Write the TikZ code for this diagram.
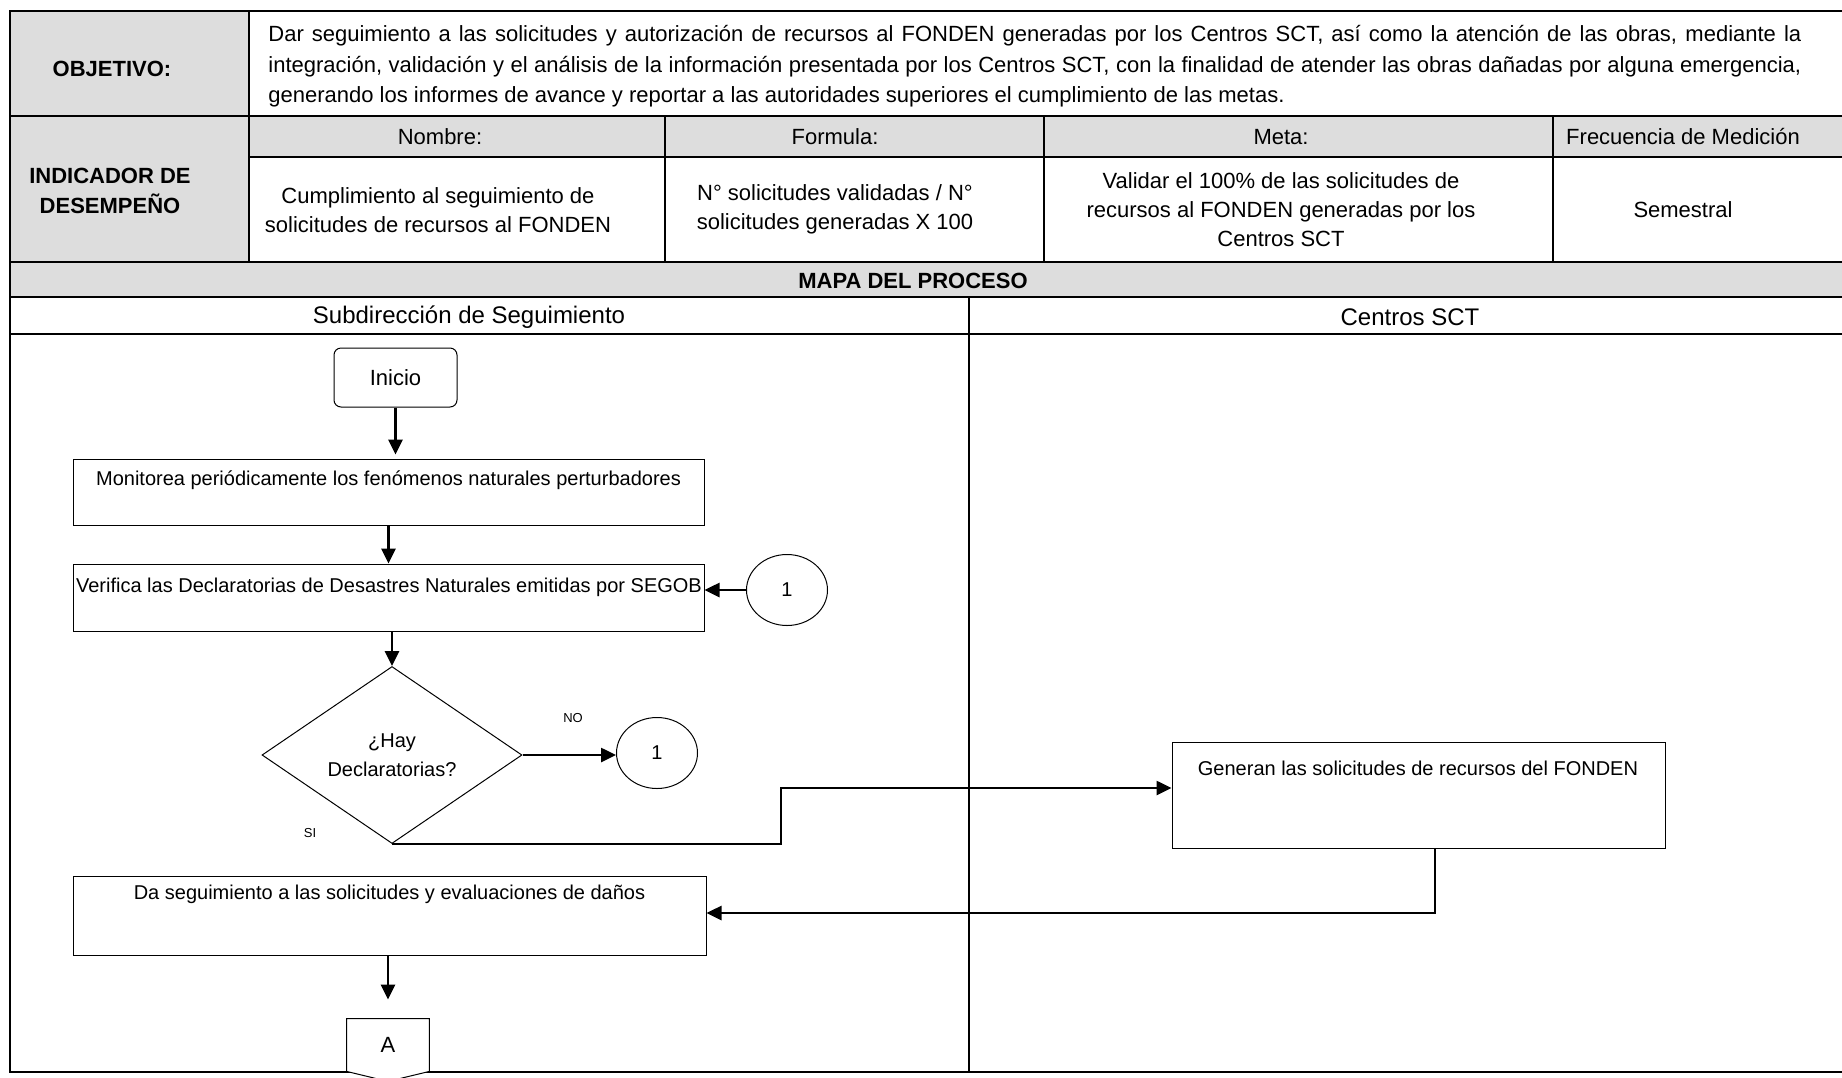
\documentclass[tikz,border=0pt]{standalone}
\usepackage{fontspec}
\setmainfont{Liberation Sans}
\usetikzlibrary{shapes.geometric,calc,fit,arrows.meta}
\definecolor{cellgray}{RGB}{221,221,221}
\begin{document}
\begin{tikzpicture}[x=0.5pt,y=-0.5pt,
  tline/.style={line width=1.4pt},
  box/.style={draw, line width=0.5pt, inner sep=0pt},
  flowtxt/.style={font=\fontsize{10}{12}\selectfont, inner sep=0pt},
  tabtxt/.style={font=\fontsize{11}{14.5}\selectfont, inner sep=0pt, align=center},
  tabbold/.style={font=\fontsize{11}{14.75}\selectfont\bfseries, inner sep=0pt, align=center},
  lanetxt/.style={font=\fontsize{12}{14}\selectfont, inner sep=0pt},
  conn/.style={line width=1.3pt, -{Triangle[length=7.5pt,width=7pt]}},
  small/.style={font=\fontsize{6.5}{8}\selectfont, inner sep=0pt},
]
\useasboundingbox (0,0) rectangle (1842,1077);
% fills
\fill[cellgray] (10,11) rectangle (249,262);
\fill[cellgray] (249,116) rectangle (1842,157);
\fill[cellgray] (10,262) rectangle (1842,297);
% table lines
\draw[tline] (1842,11) -- (10,11) -- (10,1072) -- (1842,1072);
\draw[tline] (10,116) -- (1842,116);
\draw[tline] (249,157) -- (1842,157);
\draw[tline] (10,262) -- (1842,262);
\draw[tline] (10,297) -- (1842,297);
\draw[tline] (10,334) -- (1842,334);
\draw[tline] (249,11) -- (249,262);
\draw[tline] (665,116) -- (665,262);
\draw[tline] (1044,116) -- (1044,262);
\draw[tline] (1553,116) -- (1553,262);
\draw[line width=1pt] (969,297) -- (969,1072);
% table texts
\node[tabbold] (objl) at (112,69) {OBJETIVO:};
\node[tabtxt, font=\fontsize{11}{15.25}\selectfont, text width=766.5pt, align=justify, anchor=west] (objt) at (268,66.5)
 {Dar seguimiento a las solicitudes y autorización de recursos al FONDEN generadas por los Centros SCT, así como la atención de las obras, mediante la\linebreak
 integración, validación y el análisis de la información presentada por los Centros SCT, con la finalidad de atender las obras dañadas por alguna emergencia,\linebreak
 generando los informes de avance y reportar a las autoridades superiores el cumplimiento de las metas.};
\node[tabbold] (indl) at (110,191) {INDICADOR DE\\DESEMPEÑO};
\node[tabtxt] (hnom) at (440,137) {Nombre:};
\node[tabtxt] (hfor) at (835,137) {Formula:};
\node[tabtxt] (hmet) at (1281,137) {Meta:};
\node[tabtxt] (hfre) at (1683,137) {Frecuencia de Medición};
\node[tabtxt] (dnom) at (438,210) {Cumplimiento al seguimiento de\\solicitudes de recursos al FONDEN};
\node[tabtxt] (dfor) at (835,209) {N° solicitudes validadas / N°\\solicitudes generadas X 100};
\node[tabtxt] (dmet) at (1281,210) {Validar el 100\% de las solicitudes de\\recursos al FONDEN generadas por los\\Centros SCT};
\node[tabtxt] (dfre) at (1683,210) {Semestral};
\node[tabbold] (mapa) at (913,281) {MAPA DEL PROCESO};
\node[lanetxt] (lane1) at (469,317) {Subdirección de Seguimiento};
\node[lanetxt] (lane2) at (1410,317) {Centros SCT};
% flowchart
\node[box, rounded corners=3.5pt, fit={(334,348) (457,407)}] (ini) {};
\node[font=\fontsize{11}{13}\selectfont, inner sep=0pt] (initxt) at (ini.center) {Inicio};
\node[box, fit={(73,459) (704,525)}] (mon) {};
\node[flowtxt] (montxt) at (388.5,480) {Monitorea periódicamente los fenómenos naturales perturbadores};
\node[box, fit={(73,564) (704,631)}] (ver) {};
\node[flowtxt] (vertxt) at (389,587) {Verifica las Declaratorias de Desastres Naturales emitidas por SEGOB};
\node[ellipse, draw, line width=0.5pt, minimum width=40.5pt, minimum height=35.5pt, inner sep=0pt, font=\fontsize{10}{12}\selectfont] (c1a) at (787,590) {1};
\node[diamond, draw, line width=0.5pt, minimum width=130pt, minimum height=88.5pt, inner sep=0pt, align=center, font=\fontsize{10}{14.5}\selectfont] (dec) at (392,755) {¿Hay\\Declaratorias?};
\node[ellipse, draw, line width=0.5pt, minimum width=40.5pt, minimum height=35.5pt, inner sep=0pt, font=\fontsize{10}{12}\selectfont] (c1b) at (657,753) {1};
\node[small] (no) at (573,718) {NO};
\node[small] (si) at (310,833) {SI};
\node[box, fit={(1172,742) (1665,848)}] (gen) {};
\node[flowtxt] (gentxt) at (1418,768) {Generan las solicitudes de recursos del FONDEN};
\node[box, fit={(73,876) (706,955)}] (da) {};
\node[flowtxt] (datxt) at (389.5,894) {Da seguimiento a las solicitudes y evaluaciones de daños};
\node[inner sep=0pt, minimum width=41pt, minimum height=26pt] (A) at (388,1045) {};
\filldraw[fill=white, draw=black, line width=0.5pt] (A.south west) -- (A.north west) -- (A.north east) -- (A.south east) -- ($(A.south)+(0,10)$) -- cycle;
\node[font=\fontsize{11}{13}\selectfont, inner sep=0pt] (Atxt) at (A.center) {A};
% connectors
\coordinate (j1) at (781,788);
\coordinate (j2) at (1435,913);
\draw[conn, shorten >=2pt] (ini.south) -- (ini.south |- mon.north);
\draw[conn] (mon.south) -- (mon.south |- ver.north);
\draw[conn] (c1a.west) -- (c1a.west -| ver.east);
\draw[conn] (ver.south -| dec.north) -- (dec.north);
\draw[conn] (dec.east) -- (dec.east -| c1b.west);
\draw[conn] (dec.south) -| (j1) -- (j1 -| gen.west);
\draw[conn] (j2 |- gen.south) -- (j2) -- (j2 -| da.east);
\draw[conn, shorten >=9.5pt] (da.south -| A.north) -- (A.north);
\end{tikzpicture}
\end{document}
